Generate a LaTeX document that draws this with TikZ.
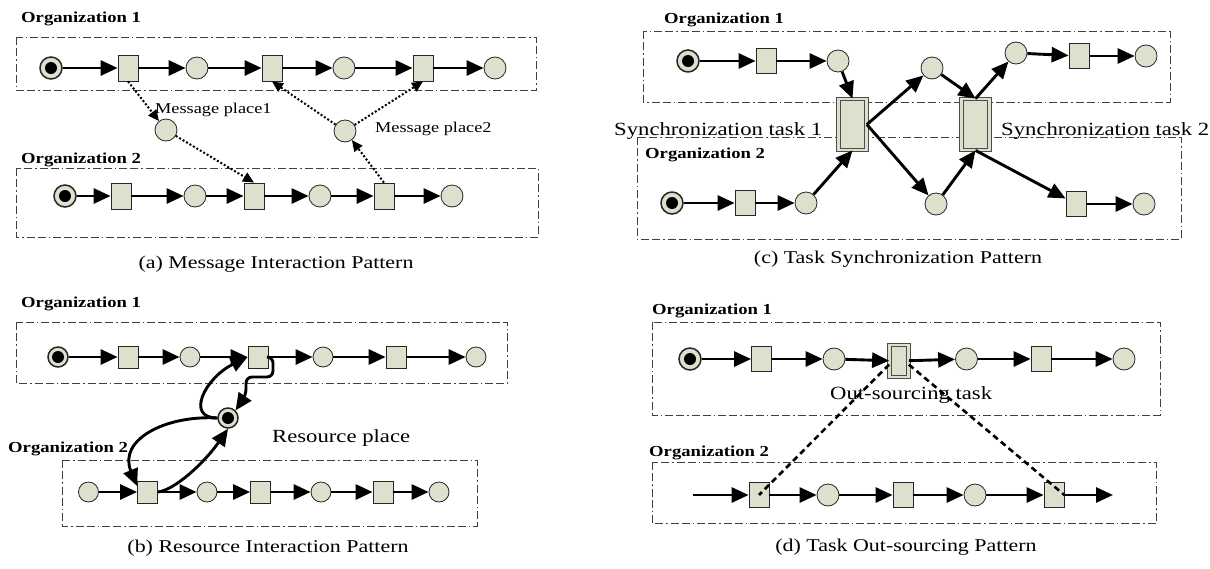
\documentclass[tikz,border=0pt]{standalone}
\usepackage{fontspec}
\setmainfont{Liberation Serif}[FakeStretch=1.22]
\usetikzlibrary{arrows.meta}
\definecolor{placefill}{RGB}{221,224,204}
\tikzset{
  place/.style={circle, draw=black!85, fill=placefill, minimum size=22pt, inner sep=0pt, line width=0.8pt},
  marked/.style={place, line width=1.5pt, path picture={\fill[black] (path picture bounding box.center) circle (6pt);}},
  trans/.style={rectangle, draw=black!85, fill=placefill, minimum width=20pt, minimum height=25pt, inner sep=0pt, line width=0.8pt},
  synctask/.style={trans, draw=black!70, double=placefill, double distance=2.5pt, minimum width=28pt, minimum height=51pt},
  flow/.style={-{Triangle[length=17pt,width=15pt]}, line width=2.9pt},
  msg/.style={-{Triangle[length=11pt,width=10pt]}, line width=2pt, dash pattern=on 2pt off 2pt},
  outsrc/.style={line width=2.6pt, dash pattern=on 6pt off 4pt},
  orgbox/.style={draw=black!75, line width=0.9pt, dash pattern=on 8pt off 3pt on 8pt off 3pt on 1.5pt off 3pt},
  orglabel/.style={anchor=base west, inner sep=0pt, font=\bfseries\fontsize{15.3}{17}\selectfont},
  msglabel/.style={anchor=base west, inner sep=0pt, font=\fontsize{15}{17}\selectfont},
  biglabel/.style={anchor=base west, inner sep=0pt, font=\fontsize{18.6}{20}\selectfont},
  caption/.style={anchor=base, inner sep=0pt, font=\fontsize{18}{20}\selectfont}
}
\begin{document}
\begin{tikzpicture}[x=1pt,y=-1pt]
  \useasboundingbox (0,0) rectangle (1210,568);
  % (a) message interaction
  \draw[orgbox] (16,37) rectangle (536,90);
  \draw[orgbox] (16,168) rectangle (538,237);
  \path
    (51,68) node[marked] (a1s){}
    (128,68) node[trans, minimum height=26pt] (a1t1){}
    (197,68) node[place] (a1p2){}
    (272,68) node[trans, minimum height=26pt] (a1t2){}
    (344,68) node[place] (a1p3){}
    (423,68) node[trans, minimum height=26pt] (a1t3){}
    (495,68) node[place] (a1p4){}
    (166,130) node[place] (am1){}
    (345,131) node[place] (am2){}
    (65,196) node[marked] (a2s){}
    (121,196) node[trans, minimum height=26pt] (a2t1){}
    (195,196) node[place] (a2p2){}
    (254,196) node[trans, minimum height=26pt] (a2t2){}
    (320,196) node[place] (a2p3){}
    (384,196) node[trans, minimum height=26pt] (a2t3){}
    (452,196) node[place] (a2p4){};
  \node[orglabel] (a1lab) at (21,22) {Organization 1};
  \node[orglabel] (a2lab) at (21,163) {Organization 2};
  \node[msglabel] (am1lab) at (155,113) {Message place1};
  \node[msglabel] (am2lab) at (375,132) {Message place2};
  \node[caption] (acap) at (276,268) {(a) Message Interaction Pattern};
  \begin{scope}[flow]
    \draw (a1s) -- (a1t1);
    \draw (a1t1) -- (a1p2);
    \draw (a1p2) -- (a1t2);
    \draw (a1t2) -- (a1p3);
    \draw (a1p3) -- (a1t3);
    \draw (a1t3) -- (a1p4);
    \draw (a2s) -- (a2t1);
    \draw (a2t1) -- (a2p2);
    \draw (a2p2) -- (a2t2);
    \draw (a2t2) -- (a2p3);
    \draw (a2p3) -- (a2t3);
    \draw (a2t3) -- (a2p4);
  \end{scope}
  \begin{scope}[msg]
    \draw (a1t1.south) -- (am1);
    \draw (am1) -- (a2t2.north);
    \draw (a2t3.north) -- (am2);
    \draw (am2) -- (a1t2.south);
    \draw (am2) -- (a1t3.south);
  \end{scope}
  % (b) resource interaction
  \draw[orgbox] (16,322) rectangle (507,383);
  \draw[orgbox] (62,460) rectangle (477,526);
  \begin{scope}[place/.append style={minimum size=20pt}, trans/.append style={minimum height=22pt}]
  \path
    (58,357) node[marked] (b1s){}
    (128,357) node[trans] (b1t1){}
    (190,357) node[place] (b1p2){}
    (258,357) node[trans] (b1t2){}
    (323,357) node[place] (b1p3){}
    (396,357) node[trans] (b1t3){}
    (476,357) node[place] (b1p4){}
    (228,418) node[marked] (bres){}
    (88.5,492) node[place] (b2p1){}
    (147.5,492) node[trans] (b2t1){}
    (207,492) node[place] (b2p2){}
    (260.5,492) node[trans] (b2t2){}
    (321,492) node[place] (b2p3){}
    (383,492) node[trans] (b2t3){}
    (439,492) node[place] (b2p4){};
  \end{scope}
  \node[orglabel] (b1lab) at (21,307) {Organization 1};
  \node[orglabel] (b2lab) at (8,452) {Organization 2};
  \node[biglabel] (breslab) at (272,442) {Resource place};
  \node[caption] (bcap) at (268,552) {(b) Resource Interaction Pattern};
  \begin{scope}[flow]
    \draw (b1s) -- (b1t1);
    \draw (b1t1) -- (b1p2);
    \draw (b1p2) -- (b1t2);
    \draw (b1t2) -- (b1p3);
    \draw (b1p3) -- (b1t3);
    \draw (b1t3) -- (b1p4);
    \draw (b2p1) -- (b2t1);
    \draw (b2t1) -- (b2p2);
    \draw (b2p2) -- (b2t2);
    \draw (b2t2) -- (b2p3);
    \draw (b2p3) -- (b2t3);
    \draw (b2t3) -- (b2p4);
    \draw (bres.west) .. controls (165,415) and (118,440) .. (b2t1.150);
    \draw (b2t1.east) .. controls (175,490) and (205,462) .. (bres.south);
    \draw (bres.west) .. controls (185,418) and (205,378) .. (b1t2.west);
    \draw[rounded corners=6pt] (b1t2.east) -| (273,377) -| (246,395) -- (bres.45);
  \end{scope}
  % (c) task synchronization
  \draw[orgbox] (643,31) rectangle (1170,102);
  \draw[orgbox] (637,137) rectangle (1181,239);
  \path
    (688,61) node[marked] (c1s){}
    (766,61) node[trans] (c1t1){}
    (838,61) node[place] (c1p2){}
    (932,68) node[place] (c1p3){}
    (1016,53) node[place] (c1p4){}
    (1079,56) node[trans] (c1t2){}
    (1146,56) node[place] (c1p5){}
    (852.5,124.5) node[synctask] (cs1){}
    (975.5,124.5) node[synctask] (cs2){}
    (672,203) node[marked] (c2s){}
    (745,203) node[trans] (c2t1){}
    (806,203) node[place] (c2p2){}
    (936,204) node[place] (c2p3){}
    (1076,204) node[trans] (c2t2){}
    (1144,204) node[place] (c2p4){};
  \node[orglabel] (c1lab) at (664,23) {Organization 1};
  \node[orglabel] (c2lab) at (645,158) {Organization 2};
  \node[biglabel] (cs1lab) at (614,135) {Synchronization task 1};
  \node[biglabel] (cs2lab) at (1001,135) {Synchronization task 2};
  \node[caption] (ccap) at (898,263) {(c) Task Synchronization Pattern};
  \begin{scope}[flow]
    \draw (c1s) -- (c1t1);
    \draw (c1t1) -- (c1p2);
    \draw (c1p2) -- (cs1.north);
    \draw (cs1.east) -- (c1p3);
    \draw (c1p3) -- (cs2.north);
    \draw (cs2.north) -- (c1p4);
    \draw (c1p4) -- (c1t2);
    \draw (c1t2) -- (c1p5);
    \draw (c2s) -- (c2t1);
    \draw (c2t1) -- (c2p2);
    \draw (c2p2) -- (cs1.south);
    \draw (cs1.east) -- (c2p3);
    \draw (c2p3) -- (cs2.south);
    \draw (cs2.south) -- (c2t2);
    \draw (c2t2) -- (c2p4);
  \end{scope}
  % (d) task out-sourcing
  \draw[orgbox] (652,322) rectangle (1160,415);
  \draw[orgbox] (652,462) rectangle (1156,523);
  \path
    (690,359) node[marked] (d1s){}
    (761.5,359) node[trans] (d1t1){}
    (834,359) node[place] (d1p2){}
    (899,361) node[synctask, minimum width=19pt, minimum height=32pt] (dtask){}
    (966.5,359) node[place] (d1p3){}
    (1041,359) node[trans] (d1t2){}
    (1124,359) node[place] (d1p4){}
    (759,495) node[trans] (d2t1){}
    (828,495) node[place] (d2p1){}
    (903,495) node[trans] (d2t2){}
    (975,495) node[place] (d2p2){}
    (1054,495) node[trans] (d2t3){};
  \coordinate (d2in) at (693,495);
  \coordinate (d2out) at (1113,495);
  \node[orglabel] (d1lab) at (652,314) {Organization 1};
  \node[orglabel] (d2lab) at (649,456) {Organization 2};
  \node[biglabel] (dtasklab) at (830,399) {Out-sourcing task};
  \node[caption] (dcap) at (906,551) {(d) Task Out-sourcing Pattern};
  \begin{scope}[flow]
    \draw (d1s) -- (d1t1);
    \draw (d1t1) -- (d1p2);
    \draw (d1p2) -- (dtask);
    \draw (dtask) -- (d1p3);
    \draw (d1p3) -- (d1t2);
    \draw (d1t2) -- (d1p4);
    \draw (d2in) -- (d2t1);
    \draw (d2t1) -- (d2p1);
    \draw (d2p1) -- (d2t2);
    \draw (d2t2) -- (d2p2);
    \draw (d2p2) -- (d2t3);
    \draw (d2t3) -- (d2out);
  \end{scope}
  \draw[outsrc] (dtask.200) -- (d2t1.center);
  \draw[outsrc] (dtask.-20) -- (d2t3.east);
\end{tikzpicture}
\end{document}
